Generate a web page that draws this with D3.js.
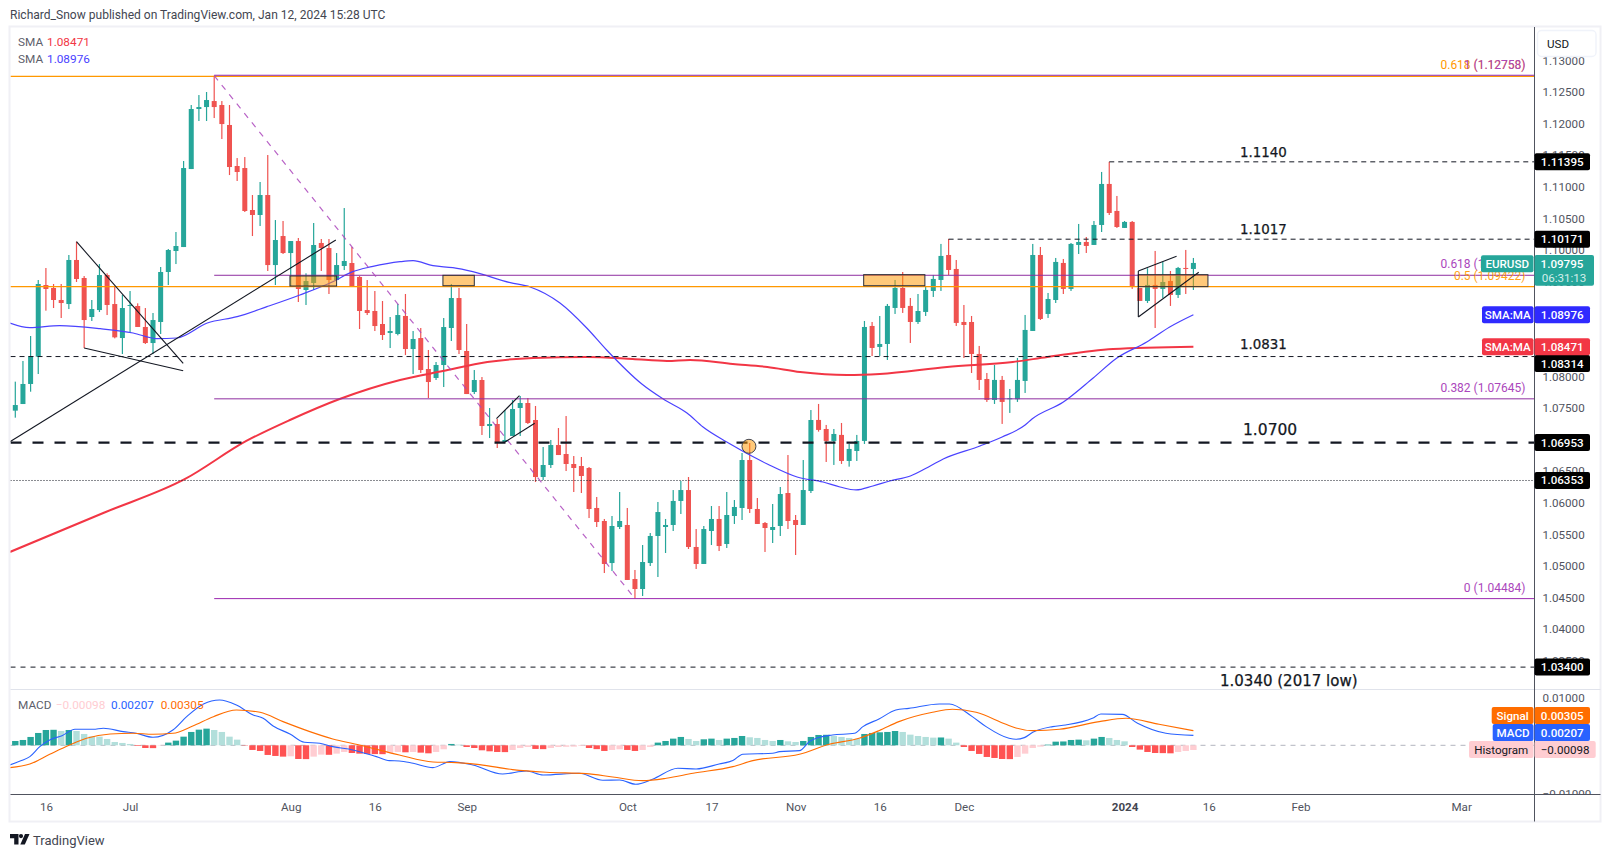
<!DOCTYPE html>
<html>
<head>
<meta charset="utf-8">
<script src="https://cdn.jsdelivr.net/npm/d3@7"></script>
<style>
  html, body { margin: 0; padding: 0; background: #fff; }
  svg { display: block; }
</style>
</head>
<body>
<div id="chart"></div>
<script>
// daily EURUSD candles, bar 0 = 12 Jun 2023, bar 154 = 12 Jan 2024
var opens = [
  1.07458,1.07563,1.07880,1.08312,1.09446,1.09399,1.09209,1.09145,1.09842,1.09557,
  1.08940,1.09050,1.09604,1.09145,1.08607,1.09119,1.09114,1.08782,1.08528,1.08861,
  1.09652,1.09984,1.10047,1.11281,1.12231,1.12262,1.12357,1.12294,1.11978,1.11329,
  1.11297,1.10633,1.10554,1.10870,1.09762,1.10221,1.09952,1.10142,1.09367,1.09478,
  1.10111,1.10031,1.09525,1.09747,1.09794,1.09573,1.09050,1.09035,1.08829,1.08687,
  1.08671,1.08956,1.08433,1.08607,1.08117,1.07975,1.08180,1.08766,1.09240,1.08402,
  1.07753,1.07943,1.07215,1.07247,1.06962,1.07057,1.07500,1.07579,1.07310,1.06408,
  1.06598,1.06914,1.06772,1.06614,1.06582,1.06551,1.05918,1.05712,1.05047,1.05617,
  1.05649,1.04794,1.04636,1.05047,1.05475,1.05617,1.05649,1.06029,1.06202,1.05301,
  1.05032,1.05554,1.05744,1.05348,1.05791,1.05918,1.06677,1.05902,1.05680,1.05570,
  1.05633,1.06155,1.05728,1.05649,1.06187,1.07311,1.07168,1.06979,1.07074,1.06662,
  1.06820,1.06979,1.08798,1.08466,1.08513,1.09083,1.09399,1.09115,1.08861,1.09020,
  1.09352,1.09526,1.09921,1.09700,1.08861,1.08861,1.08355,1.07959,1.07627,1.07944,
  1.07638,1.07638,1.07928,1.08719,1.09921,1.08988,1.09209,1.09795,1.09384,1.10080,
  1.10127,1.10080,1.10396,1.11045,1.10618,1.10349,1.10444,1.09399,1.09194,1.09447,
  1.09384,1.09510,1.09289,1.09716,1.09700
];
var highs = [
  1.07917,1.08244,1.08639,1.09525,1.09715,1.09462,1.09462,1.09921,1.10132,1.09588,
  1.09209,1.09778,1.09631,1.09420,1.09288,1.09351,1.09156,1.09082,1.09003,1.09731,
  1.10016,1.10285,1.11408,1.12294,1.12452,1.12500,1.12758,1.12357,1.12294,1.11455,
  1.11471,1.10870,1.11076,1.11503,1.10474,1.10459,1.10142,1.10190,1.09631,1.10427,
  1.10174,1.10174,1.09952,1.10664,1.10047,1.09588,1.09525,1.09351,1.09193,1.08940,
  1.09145,1.09304,1.08718,1.08766,1.08418,1.08228,1.08924,1.09462,1.09399,1.08829,
  1.08101,1.07990,1.07500,1.07326,1.07468,1.07626,1.07690,1.07658,1.07532,1.06883,
  1.06994,1.07183,1.07373,1.06740,1.06725,1.06566,1.06092,1.05744,1.05791,1.06171,
  1.05918,1.04937,1.05332,1.05522,1.06013,1.05744,1.06202,1.06345,1.06408,1.05585,
  1.05633,1.05949,1.05949,1.06171,1.06044,1.06788,1.06946,1.06076,1.05696,1.05981,
  1.06250,1.06756,1.05807,1.06677,1.07468,1.07564,1.07232,1.07168,1.07263,1.06931,
  1.07074,1.08877,1.08861,1.08956,1.09146,1.09526,1.09652,1.09241,1.09304,1.09431,
  1.09605,1.10096,1.10175,1.09842,1.09130,1.08956,1.08482,1.08054,1.08181,1.08007,
  1.07801,1.08292,1.08972,1.10096,1.10048,1.09320,1.09874,1.09858,1.10111,1.10412,
  1.10206,1.10459,1.11235,1.11395,1.10855,1.10459,1.10459,1.09399,1.09711,1.09985,
  1.09811,1.09668,1.09732,1.10001,1.09874
];
var lows = [
  1.07347,1.07563,1.07758,1.08038,1.09040,1.09082,1.08924,1.09066,1.09494,1.08449,
  1.08877,1.09019,1.08971,1.08602,1.08354,1.08702,1.08782,1.08513,1.08354,1.08671,
  1.09446,1.09778,1.10047,1.11281,1.12041,1.12041,1.12088,1.11756,1.11186,1.11092,
  1.10601,1.10221,1.10380,1.09668,1.09446,1.09937,1.09420,1.09177,1.09130,1.09367,
  1.09668,1.09304,1.09525,1.09683,1.09420,1.08750,1.08971,1.08718,1.08576,1.08449,
  1.08650,1.08338,1.08038,1.08054,1.07658,1.07943,1.07832,1.08560,1.08354,1.07721,
  1.07721,1.07073,1.07025,1.06867,1.06962,1.07057,1.07057,1.07247,1.06329,1.06361,
  1.06551,1.06756,1.06503,1.06171,1.06155,1.05759,1.05617,1.04889,1.04921,1.05585,
  1.04779,1.04484,1.04525,1.05000,1.04826,1.05206,1.05554,1.05823,1.05269,1.04953,
  1.05032,1.05332,1.05237,1.05285,1.05665,1.05728,1.05839,1.05665,1.05222,1.05364,
  1.05475,1.05585,1.05174,1.05649,1.06155,1.07126,1.06646,1.06599,1.06615,1.06572,
  1.06662,1.06931,1.08323,1.08323,1.08260,1.08988,1.09004,1.08529,1.08830,1.08956,
  1.09257,1.09352,1.09605,1.08798,1.08292,1.08054,1.07785,1.07596,1.07564,1.07248,
  1.07422,1.07596,1.07738,1.08719,1.08893,1.08925,1.09162,1.09304,1.09352,1.09937,
  1.09953,1.10080,1.10285,1.10554,1.10349,1.10349,1.09384,1.09194,1.09162,1.08766,
  1.09241,1.09115,1.09241,1.09304,1.09368
];
var closes = [
  1.07547,1.07880,1.08323,1.09462,1.09383,1.09209,1.09161,1.09842,1.09541,1.08892,
  1.09066,1.09604,1.09130,1.08618,1.09082,1.09130,1.08782,1.08528,1.08892,1.09652,
  1.10000,1.10063,1.11297,1.12231,1.12262,1.12373,1.12262,1.11993,1.11313,1.11234,
  1.10617,1.10554,1.10870,1.09762,1.10158,1.09952,1.10142,1.09383,1.09509,1.10079,
  1.10031,1.09525,1.09762,1.09826,1.09430,1.09035,1.09003,1.08797,1.08655,1.08718,
  1.08971,1.08433,1.08592,1.08101,1.07911,1.08180,1.08781,1.09240,1.08418,1.07721,
  1.07943,1.07215,1.07247,1.06962,1.06994,1.07484,1.07579,1.07263,1.06408,1.06598,
  1.06914,1.06756,1.06614,1.06551,1.06424,1.05902,1.05696,1.05032,1.05633,1.05712,
  1.04779,1.04636,1.05063,1.05475,1.05854,1.05649,1.06029,1.06202,1.05301,1.05032,
  1.05585,1.05744,1.05316,1.05807,1.05934,1.06677,1.05902,1.05665,1.05601,1.05617,
  1.06139,1.05712,1.05649,1.06202,1.07310,1.07153,1.06979,1.07089,1.06662,1.06852,
  1.06979,1.08782,1.08450,1.08513,1.09115,1.09399,1.09083,1.08861,1.09035,1.09368,
  1.09542,1.09906,1.09684,1.08846,1.08814,1.08355,1.07944,1.07627,1.07944,1.07596,
  1.07654,1.07944,1.08735,1.09921,1.08909,1.09225,1.09811,1.09384,1.10096,1.10127,
  1.10064,1.10396,1.11045,1.10586,1.10364,1.10444,1.09431,1.09194,1.09447,1.09384,
  1.09494,1.09289,1.09716,1.09700,1.09795
];
var macdHist = [
  .00090,.00111,.00174,.00257,.00319,.00323,.00298,.00319,.00298,.00236,
  .00187,.00180,.00132,.00069,.00049,.00028,-.00014,-.00056,-.00059,-.00007,
  .00056,.00097,.00180,.00278,.00326,.00347,.00319,.00278,.00180,.00118,
  -.00007,-.00097,-.00118,-.00201,-.00222,-.00236,-.00229,-.00285,-.00288,-.00236,
  -.00194,-.00198,-.00174,-.00139,-.00160,-.00174,-.00180,-.00183,-.00185,-.00160,
  -.00139,-.00146,-.00139,-.00153,-.00167,-.00139,-.00083,.00028,.00014,-.00035,
  -.00056,-.00104,-.00125,-.00139,-.00142,-.00097,-.00056,-.00035,-.00076,-.00080,
  -.00056,-.00035,-.00031,-.00028,-.00014,-.00056,-.00080,-.00118,-.00097,-.00083,
  -.00097,-.00118,-.00097,-.00035,.00056,.00090,.00139,.00174,.00132,.00090,
  .00125,.00139,.00111,.00139,.00153,.00194,.00167,.00153,.00111,.00090,
  .00111,.00083,.00069,.00090,.00174,.00215,.00219,.00194,.00174,.00153,
  .00132,.00236,.00257,.00271,.00278,.00298,.00278,.00222,.00194,.00174,
  .00160,.00163,.00139,.00056,-.00035,-.00118,-.00180,-.00243,-.00264,-.00285,
  -.00288,-.00243,-.00174,-.00056,-.00028,.00014,.00076,.00080,.00111,.00118,
  .00104,.00139,.00174,.00153,.00111,.00083,-.00035,-.00090,-.00139,-.00160,
  -.00163,-.00167,-.00139,-.00118,-.00098
];

// line series at their bends, so each has its own bar list
var sma50Bars = [-0.7,1.9,5.8,11.1,15.4,18.5,21.1,25.1,29,32.9,37.2,41.5,44.1,46.6,50.3,52,54.6,57.2,59.8,64.7,67.3,71.2,74.7,77.3,81.9,84.7,87.8,89.9,93,98.3,102.2,105.6,107.8,109.9,112.1,114.3,117,119.6,121.3,126.1,129,132,132.9,137,140.9,144,147.9,150.9,154];
var sma50 = [1.08845,1.08771,1.08802,1.08755,1.08687,1.08597,1.08608,1.08845,1.08945,1.09103,1.09288,1.09498,1.09657,1.09736,1.09815,1.09831,1.09752,1.09720,1.09657,1.09483,1.09415,1.09161,1.08766,1.08418,1.07880,1.07642,1.07421,1.07199,1.06962,1.06614,1.06408,1.06329,1.06250,1.06203,1.06266,1.06345,1.06424,1.06582,1.06693,1.06899,1.07041,1.07231,1.07326,1.07595,1.07975,1.08291,1.08544,1.08782,1.08976];
var sma200Bars = [-0.7,11.5,22.2,30.2,35.9,42.4,50.3,55.9,61.7,67.7,74.7,80.7,85.2,88.2,93.8,98.3,102.6,108.7,113,121.8,130.4,134.9,143.5,154];
var sma200 = [1.05222,1.05839,1.06377,1.06978,1.07310,1.07642,1.07943,1.08085,1.08228,1.08291,1.08307,1.08275,1.08244,1.08260,1.08196,1.08149,1.08070,1.08022,1.08038,1.08149,1.08228,1.08307,1.08434,1.08471];
var macdBars = [-0.7,0.8,1.9,3.2,4.5,6.1,7.8,10.2,11.5,14.1,15.8,18,20.6,22.4,24.6,26.7,28.9,31.1,32.4,33.7,35.9,37.8,39.8,41.5,44.1,47.2,48.9,50.2,52,54.6,56.8,59.8,63.7,66.8,69,73.7,76.8,79,81.1,83.3,86.6,89,92,93.8,95.1,99,99.9,102.5,103.8,105.1,106.8,109.7,110.8,112.9,115.1,116.8,120.8,122.1,125.1,126.9,129.9,130.8,131.9,133,135.6,137.3,140.8,141.9,144.7,146.7,150.4,154];
var macdLine = [-.00409,-.00319,-.00236,-.00028,.00111,.00201,.00333,.00333,.00354,.00285,.00250,.00167,.00319,.00597,.00861,.00944,.00840,.00632,.00562,.00403,.00236,.00062,.00042,-.00028,-.00097,-.00236,-.00319,-.00326,-.00375,-.00465,-.00340,-.00409,-.00597,-.00534,-.00618,-.00583,-.00729,-.00722,-.00812,-.00708,-.00479,-.00493,-.00389,-.00319,-.00187,-.00167,-.00132,-.00111,.00076,.00167,.00215,.00250,.00389,.00548,.00736,.00770,.00861,.00861,.00597,.00389,.00146,.00125,.00160,.00271,.00389,.00423,.00562,.00652,.00645,.00458,.00250,.00207];
var signalBars = [-0.7,1.9,4.5,7.1,9.3,12.4,15.4,18,20.6,23.2,25.9,28.9,32,35,38.5,41.5,45,47.2,50.2,54.6,57.6,60.7,65,69.4,74.6,78.1,82,85.1,88.6,93.8,96.4,102.5,106.4,110.3,112.9,115.5,119.9,122.5,125.6,129.5,130.8,133,136.5,141.7,145.2,149.5,154];
var signalLine = [-.00465,-.00389,-.00187,.00007,.00146,.00236,.00250,.00229,.00250,.00403,.00597,.00736,.00687,.00493,.00285,.00132,.00007,-.00083,-.00201,-.00347,-.00361,-.00403,-.00507,-.00562,-.00590,-.00659,-.00736,-.00687,-.00583,-.00444,-.00319,-.00187,.00021,.00146,.00305,.00493,.00687,.00750,.00687,.00437,.00361,.00305,.00333,.00493,.00562,.00437,.00305];

var timeLabels = ["16","Jul","Aug","16","Sep","Oct","17","Nov","16","Dec","2024","16","Feb","Mar"];
var timeBars = [4,15,36,47,59,80,91,102,113,124,145,156,168,189];
var priceTicks = [1.035,1.04,1.045,1.05,1.055,1.06,1.065,1.07,1.075,1.08,1.085,1.09,1.095,1.10,1.105,1.11,1.115,1.12,1.125,1.13];
var macdTicks = [-0.01,0.01];

// drawings
var fibPrices = [1.12758,1.09600,1.09422,1.07645,1.04484];
var fibLabels = ["1 (1.12758)","0.618 (1.09600)","0.5 (1.09422)","0.382 (1.07645)","0 (1.04484)"];
var zoneBars = [[35.9,42],[55.9,60],[110.9,118.9],[146.8,155.9]];
var zonePrices = [[1.09589,1.09430],[1.09600,1.09435],[1.09610,1.09435],[1.09610,1.09420]];
var trendBars = [[8,21.95],[9,21.95],[-0.65,41.9],[62.9,65.9],[64,67.9],[146.8,151.8],[146.8,154.7],[146.8,146.8]];
var trendPrices = [[1.10131,1.08207],[1.08449,1.08090],[1.06970,1.10158],[1.07331,1.07695],[1.06962,1.07258],[1.09668,1.09900],[1.08940,1.09647],[1.09668,1.08940]];

var W = 1610, H = 857;
var paneLeft = 10.5, axisX = 1534.5, frameRight = 1600.5;
var frameTop = 27, dividerY = 689.5, timeY = 794.5, frameBottom = 821.5;
var fontUI = "Roboto, 'Liberation Sans', sans-serif";
var fontNote = "'DejaVu Sans', sans-serif";
var teal = "#26a69a", red = "#ef5350";

var svg = d3.select("#chart").append("svg").attr("width", W).attr("height", H)
  .style("font-family", fontUI);

var x = d3.scaleLinear().domain([0,154]).range([15.3,1193.4]);
var yPrice = d3.scaleLinear().domain([1.10,1.04]).range([250,629.2]);
var yMacd = d3.scaleLinear().domain([0,0.01]).range([745.3,697.3]);

var defs = svg.append("defs");
defs.append("clipPath").attr("id","clip-price").append("rect")
  .attr("x",paneLeft).attr("y",frameTop).attr("width",axisX-paneLeft).attr("height",dividerY-frameTop);
defs.append("clipPath").attr("id","clip-macd").append("rect")
  .attr("x",paneLeft).attr("y",dividerY).attr("width",axisX-paneLeft).attr("height",timeY-dividerY);
defs.append("clipPath").attr("id","clip-macd-axis").append("rect")
  .attr("x",axisX).attr("y",dividerY).attr("width",frameRight-axisX).attr("height",timeY-dividerY);

// frame
svg.append("rect").attr("x",9.5).attr("y",26.5).attr("width",frameRight-9.5).attr("height",frameBottom-26.5)
  .attr("fill","#fff").attr("stroke","#f0f0f5").attr("stroke-width",2);

svg.append("text").attr("x",10).attr("y",19).attr("fill","#434651")
  .style("font-size","12.05px").text("Richard_Snow published on TradingView.com, Jan 12, 2024 15:28 UTC");

var pricePane = svg.append("g").attr("clip-path","url(#clip-price)");
var macdPane = svg.append("g").attr("clip-path","url(#clip-macd)");

// candles
var bars = d3.range(opens.length);
var candle = pricePane.append("g").selectAll("g").data(bars).enter().append("g")
  .attr("fill", function(i) { return closes[i] >= opens[i] ? teal : red; });
candle.append("rect")
  .attr("x", function(i) { return x(i)-0.6; })
  .attr("width", 1.2)
  .attr("y", function(i) { return yPrice(highs[i]); })
  .attr("height", function(i) { return yPrice(lows[i])-yPrice(highs[i]); });
candle.append("rect")
  .attr("x", function(i) { return x(i)-2.5; })
  .attr("width", 5)
  .attr("y", function(i) { return yPrice(Math.max(opens[i],closes[i])); })
  .attr("height", function(i) { return Math.max(1, Math.abs(yPrice(opens[i])-yPrice(closes[i]))); });

// moving averages
function seriesLine(barList, y) {
  return d3.line()
    .x(function(d,i) { return x(barList[i]); })
    .y(function(d) { return y(d); })
    .curve(d3.curveMonotoneX);
}
pricePane.append("path").datum(sma200).attr("d",seriesLine(sma200Bars,yPrice))
  .attr("fill","none").attr("stroke","#f23645").attr("stroke-width",2);
pricePane.append("path").datum(sma50).attr("d",seriesLine(sma50Bars,yPrice))
  .attr("fill","none").attr("stroke","#4a42ff").attr("stroke-width",1.2);

// horizontal levels
function level(price, startBar, color, width, dash) {
  pricePane.append("line")
    .attr("x1", startBar === null ? paneLeft : x(startBar)).attr("x2", axisX)
    .attr("y1", yPrice(price)).attr("y2", yPrice(price))
    .attr("stroke", color).attr("stroke-width", width)
    .attr("stroke-dasharray", dash);
}
level(1.12748, null, "#ff9800", 1.2);
level(1.09422, null, "#ff9800", 1.2);
level(1.12764, 26, "#8e24aa", 1.1);
level(1.09600, 26, "#8e2ea0", 1);
level(1.07645, 26, "#8e2ea0", 1);
level(1.04484, 26, "#9c27b0", 1);
level(1.08314, null, "#131722", 1, "5,4");
level(1.06953, null, "#131722", 2.2, "11,11");
level(1.06353, null, "#131722", 1, "1,2");
level(1.03400, null, "#131722", 1, "5,5");
level(1.11395, 143, "#131722", 1, "5,4");
level(1.10171, 122, "#131722", 1, "5,4");

// fib diagonal
pricePane.append("line")
  .attr("x1",x(26)).attr("y1",yPrice(1.12758)).attr("x2",x(81)).attr("y2",yPrice(1.04484))
  .attr("stroke","#ab47bc").attr("stroke-width",1.2).attr("stroke-opacity",0.85).attr("stroke-dasharray","6,6");

// highlighted zones
pricePane.append("g").selectAll("rect").data(zoneBars).enter().append("rect")
  .attr("x", function(d) { return x(d[0]); })
  .attr("width", function(d) { return x(d[1])-x(d[0]); })
  .attr("y", function(d,i) { return yPrice(zonePrices[i][0]); })
  .attr("height", function(d,i) { return yPrice(zonePrices[i][1])-yPrice(zonePrices[i][0]); })
  .attr("fill","rgba(255,152,0,0.52)").attr("stroke","#2a2e39").attr("stroke-width",1);

pricePane.append("circle")
  .attr("cx",x(95.9)).attr("cy",yPrice(1.06894)).attr("r",7)
  .attr("fill","rgba(255,152,0,0.52)").attr("stroke","#434651").attr("stroke-width",1);

// trend lines
pricePane.append("g").selectAll("line").data(trendBars).enter().append("line")
  .attr("x1", function(d) { return x(d[0]); })
  .attr("x2", function(d) { return x(d[1]); })
  .attr("y1", function(d,i) { return yPrice(trendPrices[i][0]); })
  .attr("y2", function(d,i) { return yPrice(trendPrices[i][1]); })
  .attr("stroke","#131722").attr("stroke-width",1.1);

// fib labels
var fibText = pricePane.append("g").style("font-size","12px").attr("text-anchor","end");
fibText.append("text").attr("x",1525.5).attr("y",yPrice(1.12758)-7).attr("fill","#ff9800").text("0.618 (1.12758)");
fibPrices.forEach(function(p,i) {
  var isHalf = fibLabels[i].indexOf("0.5") === 0;
  fibText.append("text").attr("x",1525.5)
    .attr("y",yPrice(p)-7)
    .attr("fill", isHalf ? "#ff9800" : "#ab47bc")
    .attr("opacity", isHalf ? 0.9 : 1)
    .text(fibLabels[i]);
});

// hand written levels
var notes = [["1.1140",1240,157,13.4],["1.1017",1240,234,13.4],["1.0831",1240,349,13.4],["1.0700",1243,435,15.5],["1.0340 (2017 low)",1220,686,15]];
pricePane.append("g").selectAll("text").data(notes).enter().append("text")
  .attr("x", function(d) { return d[1]; }).attr("y", function(d) { return d[2]; })
  .style("font-family",fontNote).style("font-size", function(d) { return d[3]+"px"; })
  .attr("fill","#131722").attr("stroke","#131722").attr("stroke-width",0.25)
  .text(function(d) { return d[0]; });

// macd pane
macdPane.append("line").attr("x1",paneLeft).attr("x2",axisX).attr("y1",yMacd(0)).attr("y2",yMacd(0))
  .attr("stroke","#b2b5be").attr("stroke-dasharray","5,5");
macdPane.append("g").selectAll("rect").data(bars).enter().append("rect")
  .attr("x", function(i) { return x(i)-3.2; })
  .attr("width",6.4)
  .attr("y", function(i) { return Math.min(yMacd(macdHist[i]),yMacd(0)); })
  .attr("height", function(i) { return Math.abs(yMacd(macdHist[i])-yMacd(0)); })
  .attr("fill", function(i) {
    var rising = i === 0 || macdHist[i] >= macdHist[i-1];
    if (macdHist[i] >= 0) return rising ? teal : "#b2dfdb";
    return rising ? "#ffcdd2" : "#ff5252";
  });
macdPane.append("path").datum(macdLine).attr("d",seriesLine(macdBars,yMacd))
  .attr("fill","none").attr("stroke","#2962ff").attr("stroke-width",1.1);
macdPane.append("path").datum(signalLine).attr("d",seriesLine(signalBars,yMacd))
  .attr("fill","none").attr("stroke","#ff6d00").attr("stroke-width",1.1);

// pane rules
svg.append("line").attr("x1",paneLeft).attr("x2",frameRight).attr("y1",dividerY).attr("y2",dividerY).attr("stroke","#e0e3eb");
svg.append("line").attr("x1",paneLeft).attr("x2",frameRight).attr("y1",timeY).attr("y2",timeY).attr("stroke","#50535e");
svg.append("line").attr("x1",axisX).attr("x2",axisX).attr("y1",frameTop).attr("y2",frameBottom).attr("stroke","#50535e");

// axes
function styleAxis(g) {
  g.select(".domain").remove();
  g.selectAll("text").attr("fill","#50535e").style("font-size","11.6px").style("font-family",fontUI);
}
svg.append("g").attr("transform","translate("+axisX+",0)")
  .call(d3.axisRight(yPrice).tickValues(priceTicks).tickSize(0).tickPadding(8).tickFormat(d3.format(".5f")))
  .call(styleAxis);
svg.append("g").attr("clip-path","url(#clip-macd-axis)")
  .append("g").attr("transform","translate("+axisX+",0)")
  .call(d3.axisRight(yMacd).tickValues(macdTicks).tickSize(0).tickPadding(8).tickFormat(d3.format(".5f")))
  .call(styleAxis);
var timeAxis = svg.append("g").attr("transform","translate(0,"+timeY+")")
  .call(d3.axisBottom(x).tickValues(timeBars).tickSize(0).tickPadding(8)
    .tickFormat(function(d,i) { return timeLabels[i]; }))
  .call(styleAxis);
timeAxis.selectAll("text").filter(function(d,i) { return timeLabels[i] === "2024"; })
  .style("font-weight","700").attr("fill","#434651");

// usd button
svg.append("rect").attr("x",1537.5).attr("y",30.5).attr("width",58.5).attr("height",26).attr("rx",4)
  .attr("fill","#fff").attr("stroke","#f0f3fa").attr("stroke-width",1.4);
svg.append("text").attr("x",1547).attr("y",48).attr("fill","#131722").style("font-size","11.6px").text("USD");

// price tags
function tag(x0, x1, cy, fill, color, label, weight) {
  var h = 17;
  svg.append("rect").attr("x",x0).attr("y",cy-h/2).attr("width",x1-x0).attr("height",h).attr("rx",2).attr("fill",fill);
  svg.append("text").attr("x",x0+(x1-x0)/2).attr("y",cy+4).attr("text-anchor","middle")
    .attr("fill",color).style("font-size","11.6px").style("font-weight",weight || 500).text(label);
}
[1.11395,1.10171,1.06953,1.06353,1.03400].forEach(function(p) {
  tag(axisX,1590,yPrice(p),"#000","#fff",d3.format(".5f")(p));
});
tag(axisX,1590,363.5,"#000","#fff","1.08314");
tag(1481,1533.5,263.7,teal,"#fff","EURUSD");
svg.append("rect").attr("x",axisX).attr("y",255).attr("width",59.5).attr("height",30.7).attr("rx",2).attr("fill",teal);
svg.append("text").attr("x",1562).attr("y",268).attr("text-anchor","middle").attr("fill","#fff").style("font-size","11.6px").style("font-weight",500).text("1.09795");
svg.append("text").attr("x",1564).attr("y",281.5).attr("text-anchor","middle").attr("fill","#d4eeeb").style("font-size","11.6px").text("06:31:13");
tag(1482,1533.5,yPrice(1.08976),"#2f2aff","#fff","SMA:MA");
tag(axisX,1590,yPrice(1.08976),"#2f2aff","#fff","1.08976");
tag(1482,1533.5,yPrice(1.08471),"#f23645","#fff","SMA:MA");
tag(axisX,1590,yPrice(1.08471),"#f23645","#fff","1.08471");
tag(1491.7,1533.5,715.5,"#ff6d00","#fff","Signal");
tag(axisX,1590,715.5,"#ff6d00","#fff","0.00305");
tag(1492.7,1533.5,732.5,"#2962ff","#fff","MACD");
tag(axisX,1590,732.5,"#2962ff","#fff","0.00207");
tag(1469,1533.5,749.5,"#ffcdd2","#131722","Histogram",400);
tag(axisX,1595.7,749.5,"#ffcdd2","#131722","\u22120.00098",400);

// legends
function legend(y, parts) {
  parts.forEach(function(p) {
    svg.append("text").attr("x",p[0]).attr("y",y).attr("fill",p[2]).style("font-size","11.8px").text(p[1]);
  });
}
legend(45.5,[[18,"SMA","#5d606b"],[47,"1.08471","#f23645"]]);
legend(63,[[18,"SMA","#5d606b"],[47,"1.08976","#4a42ff"]]);
legend(709,[[18,"MACD","#5d606b"],[55.7,"\u22120.00098","#ffcdd2"],[111,"0.00207","#2962ff"],[160.7,"0.00305","#ff6d00"]]);

// footer logo
var logo = svg.append("g").attr("transform","translate(10,834)").attr("fill","#131722");
logo.append("path").attr("d","M0 0H8.5V10.5H4.2V4.2H0Z");
logo.append("circle").attr("cx",11).attr("cy",2.1).attr("r",2.1);
logo.append("path").attr("d","M15 0H19.5L14.8 10.5H10.3Z");
svg.append("text").attr("x",33).attr("y",845).attr("fill","#434651").style("font-size","13px").text("TradingView");
</script>
</body>
</html>
